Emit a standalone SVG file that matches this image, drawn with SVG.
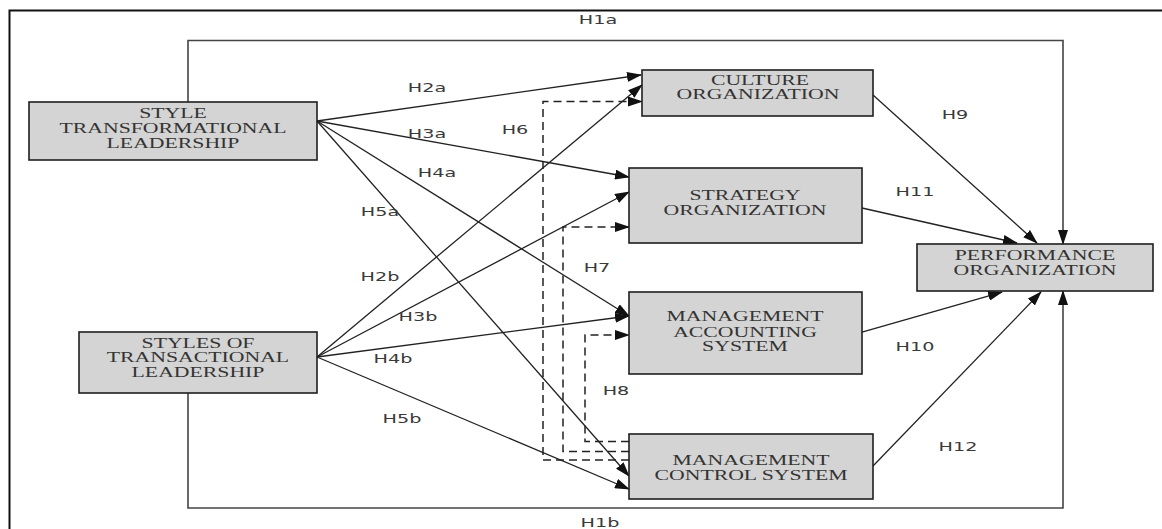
<svg xmlns="http://www.w3.org/2000/svg" width="1162" height="529" viewBox="0 0 1162 529">
<style>
.node rect{fill:#d4d4d4;stroke:#1e1e1e;stroke-width:1.6}
.nt{font-family:"Liberation Serif","Times New Roman",serif;font-size:14.5px;fill:#333;text-anchor:middle}
.lb{font-family:"DejaVu Sans","Verdana",sans-serif;font-size:12px;fill:#3a3a3a;text-anchor:middle}
.c{fill:none;stroke:#222;stroke-width:1.3}
.d{fill:none;stroke:#222;stroke-width:1.5;stroke-dasharray:8,5}
.f{fill:none;stroke:#444;stroke-width:1.6}
</style>
<defs>
<marker id="ah" markerUnits="userSpaceOnUse" markerWidth="15" markerHeight="10" refX="14" refY="5" orient="auto">
<path d="M0,0 L15,5 L0,10 Z" fill="#111"/>
</marker>
</defs>
<rect width="1162" height="529" fill="#fff"/>
<path d="M9.5,529 V10.5 H1162" fill="none" stroke="#111" stroke-width="2"/>
<g id="connectors">
<path class="f" d="M188,102 V40.5 H1063 V244" marker-end="url(#ah)"/>
<path class="f" d="M188,393 V508 H1063 V291" marker-end="url(#ah)"/>
<line class="c" x1="317" y1="121" x2="641" y2="75" marker-end="url(#ah)"/>
<line class="c" x1="317" y1="121" x2="629" y2="177" marker-end="url(#ah)"/>
<line class="c" x1="317" y1="121" x2="629" y2="316" marker-end="url(#ah)"/>
<line class="c" x1="317" y1="121" x2="629" y2="476" marker-end="url(#ah)"/>
<line class="c" x1="317" y1="357" x2="642" y2="85" marker-end="url(#ah)"/>
<line class="c" x1="317" y1="357" x2="629" y2="192" marker-end="url(#ah)"/>
<line class="c" x1="317" y1="357" x2="629" y2="316" marker-end="url(#ah)"/>
<line class="c" x1="317" y1="357" x2="629" y2="489" marker-end="url(#ah)"/>
<path class="d" d="M629,460 H543 V101.5 H642" marker-end="url(#ah)"/>
<path class="d" d="M629,451.5 H563 V227 H629" marker-end="url(#ah)"/>
<path class="d" d="M629,441.5 H585 V335 H629" marker-end="url(#ah)"/>
<line class="c" x1="873" y1="95" x2="1037" y2="243" marker-end="url(#ah)"/>
<line class="c" x1="862" y1="208" x2="1017" y2="243" marker-end="url(#ah)"/>
<line class="c" x1="862" y1="332" x2="1002" y2="292" marker-end="url(#ah)"/>
<line class="c" x1="873" y1="466" x2="1041" y2="292" marker-end="url(#ah)"/>
</g>
<g id="labels">
<text class="lb" transform="translate(598,24) scale(1.6,1)">H1a</text>
<text class="lb" transform="translate(600,527) scale(1.6,1)">H1b</text>
<text class="lb" transform="translate(427,92) scale(1.6,1)">H2a</text>
<text class="lb" transform="translate(427,138) scale(1.6,1)">H3a</text>
<text class="lb" transform="translate(437,177) scale(1.6,1)">H4a</text>
<text class="lb" transform="translate(380,216) scale(1.6,1)">H5a</text>
<text class="lb" transform="translate(380,281) scale(1.6,1)">H2b</text>
<text class="lb" transform="translate(418,321) scale(1.6,1)">H3b</text>
<text class="lb" transform="translate(393,363) scale(1.6,1)">H4b</text>
<text class="lb" transform="translate(402,423) scale(1.6,1)">H5b</text>
<text class="lb" transform="translate(515,134) scale(1.6,1)">H6</text>
<text class="lb" transform="translate(597,272) scale(1.6,1)">H7</text>
<text class="lb" transform="translate(616,395) scale(1.6,1)">H8</text>
<text class="lb" transform="translate(955,119) scale(1.6,1)">H9</text>
<text class="lb" transform="translate(915,196) scale(1.6,1)">H11</text>
<text class="lb" transform="translate(915,351) scale(1.6,1)">H10</text>
<text class="lb" transform="translate(958,451) scale(1.6,1)">H12</text>
</g>
<g id="n-transformational" class="node">
<rect x="29" y="102" width="288" height="58"/>
<text class="nt" transform="translate(173,118) scale(1.5,1)">STYLE</text>
<text class="nt" transform="translate(173,133) scale(1.5,1)">TRANSFORMATIONAL</text>
<text class="nt" transform="translate(173,148) scale(1.5,1)">LEADERSHIP</text>
</g>
<g id="n-transactional" class="node">
<rect x="79" y="332" width="238" height="61"/>
<text class="nt" transform="translate(198,348) scale(1.5,1)">STYLES OF</text>
<text class="nt" transform="translate(198,362) scale(1.5,1)">TRANSACTIONAL</text>
<text class="nt" transform="translate(198,377) scale(1.5,1)">LEADERSHIP</text>
</g>
<g id="n-culture" class="node">
<rect x="642" y="70" width="231" height="46"/>
<text class="nt" transform="translate(760,85) scale(1.5,1)">CULTURE</text>
<text class="nt" transform="translate(758,99) scale(1.5,1)">ORGANIZATION</text>
</g>
<g id="n-strategy" class="node">
<rect x="629" y="168" width="233" height="75"/>
<text class="nt" transform="translate(745,200) scale(1.5,1)">STRATEGY</text>
<text class="nt" transform="translate(745,215) scale(1.5,1)">ORGANIZATION</text>
</g>
<g id="n-mas" class="node">
<rect x="629" y="292" width="233" height="82"/>
<text class="nt" transform="translate(745,321) scale(1.5,1)">MANAGEMENT</text>
<text class="nt" transform="translate(745,337) scale(1.5,1)">ACCOUNTING</text>
<text class="nt" transform="translate(745,351) scale(1.5,1)">SYSTEM</text>
</g>
<g id="n-mcs" class="node">
<rect x="629" y="434" width="244" height="65"/>
<text class="nt" transform="translate(751,465) scale(1.5,1)">MANAGEMENT</text>
<text class="nt" transform="translate(751,480) scale(1.5,1)">CONTROL SYSTEM</text>
</g>
<g id="n-performance" class="node">
<rect x="917" y="244" width="236" height="47"/>
<text class="nt" transform="translate(1035,260) scale(1.5,1)">PERFORMANCE</text>
<text class="nt" transform="translate(1035,275) scale(1.5,1)">ORGANIZATION</text>
</g>
</svg>
